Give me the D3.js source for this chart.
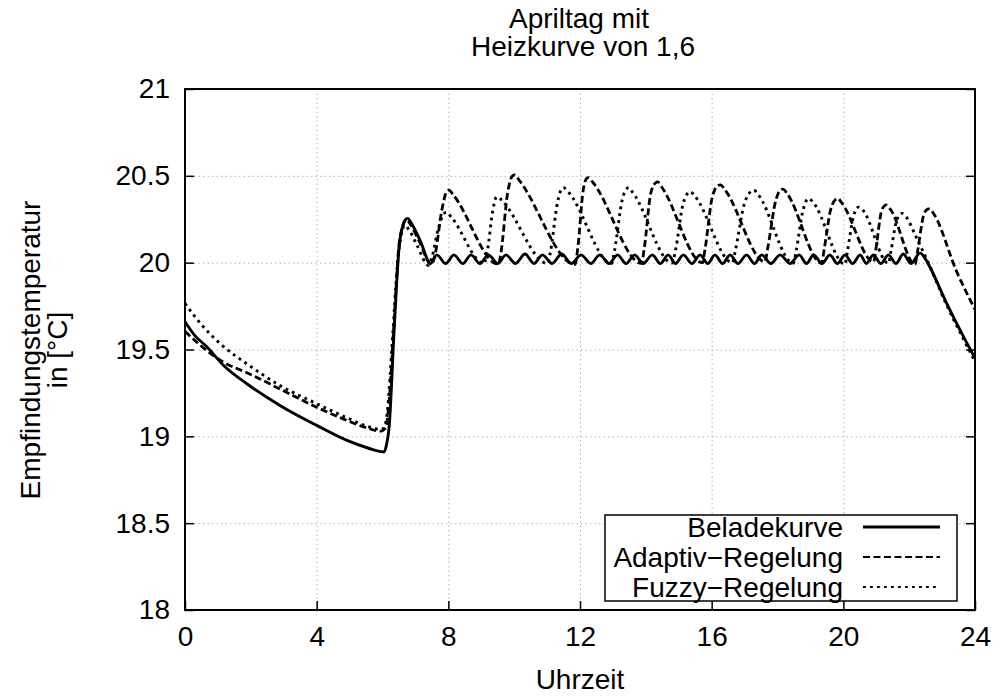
<!DOCTYPE html>
<html>
<head>
<meta charset="utf-8">
<script src="https://cdn.jsdelivr.net/npm/d3@7"></script>
<style>
  body { margin: 0; background: #fff; }
  svg { display: block; }
  text { font-family: "Liberation Sans", Arial, Helvetica, sans-serif; fill: #000; }
</style>
</head>
<body>
<svg id="chart" width="998" height="697"></svg>
<script>
// ---- Chart text ----
const titleLines = ["Apriltag mit", "Heizkurve von 1,6"];
const xAxisTitle = "Uhrzeit";
const yAxisTitleLines = ["Empfindungstemperatur", "in [°C]"];
const seriesNames = ["Beladekurve", "Adaptiv\u2212Regelung", "Fuzzy\u2212Regelung"];

// ---- Ticks ----
const xTickValues = [0, 4, 8, 12, 16, 20, 24];
const xTickLabels = ["0", "4", "8", "12", "16", "20", "24"];
const yTickValues = [18, 18.5, 19, 19.5, 20, 20.5, 21];
const yTickLabels = ["18", "18.5", "19", "19.5", "20", "20.5", "21"];

// ---- Beladekurve (solid) ----
const beladeHours = [0, 0.3, 0.64, 1.19, 1.9, 2.91, 4.03, 4.94, 5.6, 5.95, 6.05, 6.12, 6.2, 6.35, 6.5, 6.63, 6.76, 6.9, 7.16, 7.46,
  7.65, 7.92, 8.17, 8.44, 8.69, 8.96, 9.22, 9.5, 9.75, 10.04, 10.33, 10.6, 10.86, 11.15, 11.44, 11.74,
  12.03, 12.33, 12.6, 12.88, 13.14, 13.4, 13.66, 13.92, 14.2, 14.44, 14.68, 14.9, 15.14, 15.4, 15.65, 15.88,
  16.1, 16.33, 16.56, 16.8, 17.06, 17.3, 17.52, 17.8, 18.08, 18.38, 18.66, 18.88, 19.1, 19.35, 19.59, 19.82,
  20.05, 20.28, 20.51, 20.7, 20.91, 21.14, 21.37, 21.6, 21.82, 22.06, 22.33, 22.5, 22.63, 23.14, 23.65, 24];
const beladeTemps = [19.66, 19.58, 19.52, 19.405, 19.3, 19.175, 19.06, 18.975, 18.93, 18.912, 18.91, 18.95, 19.05, 19.6, 20.08, 20.22, 20.255, 20.22, 20.12, 19.995,
  20.045, 19.995, 20.045, 19.995, 20.045, 19.995, 20.045, 19.995, 20.045, 19.995, 20.05, 19.995, 20.045, 19.995, 20.05, 19.995,
  20.045, 19.995, 20.045, 19.995, 20.045, 19.995, 20.045, 19.995, 20.045, 19.995, 20.045, 19.995, 20.045, 19.995, 20.045, 19.995,
  20.045, 19.995, 20.045, 19.995, 20.045, 19.995, 20.045, 19.995, 20.045, 19.995, 20.045, 19.995, 20.045, 19.995, 20.045, 19.995,
  20.045, 19.995, 20.045, 19.995, 20.045, 19.995, 20.045, 19.995, 20.05, 19.995, 20.055, 20.02, 19.975, 19.766, 19.574, 19.45];

// ---- Adaptiv-Regelung (dashed) ----
const adaptivHours = [0, 0.49, 1.19, 1.9, 2.91, 3.92, 4.94, 5.5, 5.95, 6.1, 6.2, 6.35, 6.5, 6.6, 6.72, 6.85, 7.1, 7.49,
  7.6, 7.8, 7.95, 8.02, 8.15, 9.52,
  9.6, 9.8, 9.95, 10.02, 10.15, 11.85,
  11.93, 12.1, 12.2, 12.26, 12.4, 13.87,
  13.95, 14.15, 14.3, 14.36, 14.5, 15.72,
  15.8, 16.02, 16.2, 16.27, 16.4, 17.62,
  17.7, 17.95, 18.1, 18.17, 18.3, 19.34,
  19.42, 19.62, 19.77, 19.83, 19.95, 20.92,
  20.99, 21.15, 21.25, 21.3, 21.42, 22.18,
  22.25, 22.45, 22.56, 22.62, 22.75, 23.44, 24];
const adaptivTemps = [19.605, 19.52, 19.425, 19.365, 19.27, 19.175, 19.09, 19.05, 19.03, 19.05, 19.2, 19.65, 20.1, 20.2, 20.25, 20.22, 20.13, 19.99,
  20.05, 20.3, 20.41, 20.418, 20.39, 19.99,
  20.06, 20.4, 20.5, 20.505, 20.475, 19.99,
  20.08, 20.42, 20.485, 20.49, 20.46, 19.996,
  20.08, 20.4, 20.46, 20.465, 20.43, 20.0,
  20.08, 20.38, 20.445, 20.448, 20.42, 20.005,
  20.08, 20.36, 20.42, 20.424, 20.395, 19.996,
  20.08, 20.31, 20.365, 20.37, 20.345, 20.005,
  20.08, 20.29, 20.328, 20.332, 20.31, 19.99,
  20.06, 20.28, 20.308, 20.31, 20.28, 19.95, 19.73];

// ---- Fuzzy-Regelung (dotted) ----
const fuzzyHours = [0, 0.49, 1.09, 1.9, 2.91, 3.92, 4.94, 5.5, 5.95, 6.05, 6.15, 6.3, 6.45, 6.58, 6.68, 6.8, 7.05, 7.39,
  7.5, 7.7, 7.88, 7.95, 8.1, 9.08,
  9.18, 9.35, 9.45, 9.5, 9.62, 11.02,
  11.1, 11.32, 11.45, 11.5, 11.63, 12.96,
  13.05, 13.28, 13.43, 13.48, 13.6, 14.8,
  14.9, 15.12, 15.3, 15.35, 15.48, 16.63,
  16.72, 16.98, 17.22, 17.28, 17.42, 18.48,
  18.57, 18.75, 18.9, 18.95, 19.07, 20.05,
  20.12, 20.3, 20.42, 20.47, 20.58, 21.37,
  21.45, 21.6, 21.73, 21.78, 21.9, 22.23, 22.58, 23.14, 23.65, 24];
const fuzzyTemps = [19.765, 19.645, 19.53, 19.415, 19.29, 19.195, 19.105, 19.06, 19.04, 19.05, 19.15, 19.55, 19.98, 20.17, 20.215, 20.19, 20.1, 19.985,
  20.03, 20.2, 20.285, 20.29, 20.26, 19.995,
  20.06, 20.3, 20.375, 20.38, 20.36, 19.995,
  20.06, 20.35, 20.428, 20.432, 20.41, 19.995,
  20.07, 20.36, 20.428, 20.432, 20.405, 19.998,
  20.07, 20.33, 20.405, 20.409, 20.385, 20.0,
  20.07, 20.33, 20.414, 20.418, 20.39, 19.996,
  20.07, 20.28, 20.365, 20.37, 20.35, 19.99,
  20.06, 20.26, 20.316, 20.32, 20.305, 19.996,
  20.07, 20.23, 20.28, 20.284, 20.265, 20.14, 20.0, 19.755, 19.56, 19.43];

// ---- Layout ----
const plot = { left: 185, right: 975, top: 89, bottom: 610 };
const fontSize = 28;
const svg = d3.select("#chart");

const x = d3.scaleLinear().domain([0, 24]).range([plot.left, plot.right]);
const y = d3.scaleLinear().domain([18, 21]).range([plot.bottom, plot.top]);

// Grid
const grid = svg.append("g").attr("stroke", "#b4b4b4").attr("stroke-width", 1).attr("stroke-dasharray", "1.5,3");
grid.selectAll("line.gx").data(xTickValues.slice(1, -1)).join("line")
  .attr("x1", d => x(d) + 0.5).attr("x2", d => x(d) + 0.5)
  .attr("y1", plot.top).attr("y2", plot.bottom);
grid.selectAll("line.gy").data(yTickValues.slice(1, -1)).join("line")
  .attr("x1", plot.left).attr("x2", plot.right)
  .attr("y1", d => y(d) + 0.5).attr("y2", d => y(d) + 0.5);

// Axes with inward ticks (left, right, bottom)
const tickLen = 9;
const leftAxis = d3.axisLeft(y).tickValues(yTickValues).tickFormat((d, i) => yTickLabels[i]).tickSizeInner(-tickLen).tickSizeOuter(0).tickPadding(15);
const rightAxis = d3.axisRight(y).tickValues(yTickValues).tickFormat("").tickSizeInner(-tickLen).tickSizeOuter(0);
const bottomAxis = d3.axisBottom(x).tickValues(xTickValues).tickFormat((d, i) => xTickLabels[i]).tickSizeInner(-tickLen).tickSizeOuter(0).tickPadding(16);

function styleAxis(g) {
  g.select(".domain").remove();
  g.selectAll(".tick line").attr("stroke", "#000").attr("stroke-width", 1.5);
  g.selectAll(".tick text").attr("font-size", fontSize).attr("font-family", "Liberation Sans, Arial, sans-serif").attr("fill", "#000");
}
svg.append("g").attr("transform", `translate(${plot.left},0)`).call(leftAxis).call(styleAxis);
svg.append("g").attr("transform", `translate(${plot.right},0)`).call(rightAxis).call(styleAxis);
svg.append("g").attr("transform", `translate(0,${plot.bottom})`).call(bottomAxis).call(styleAxis);

// Series
const seriesDefs = [
  { hours: beladeHours, temps: beladeTemps, dash: null, width: 2.9 },
  { hours: adaptivHours, temps: adaptivTemps, dash: "7,3.5", width: 2.8 },
  { hours: fuzzyHours, temps: fuzzyTemps, dash: "2.8,4.2", width: 2.9 }
];
const line = d3.line().x(d => x(d[0])).y(d => y(d[1])).curve(d3.curveMonotoneX);
svg.append("defs").append("clipPath").attr("id", "plotClip")
  .append("rect").attr("x", plot.left).attr("y", plot.top)
  .attr("width", plot.right - plot.left).attr("height", plot.bottom - plot.top);
const seriesG = svg.append("g").attr("clip-path", "url(#plotClip)");
[2, 1, 0].forEach(i => {
  const s = seriesDefs[i];
  seriesG.append("path")
    .datum(s.hours.map((h, k) => [h, s.temps[k]]))
    .attr("d", line)
    .attr("fill", "none").attr("stroke", "#000")
    .attr("stroke-width", s.width)
    .attr("stroke-linejoin", "round")
    .attr("stroke-dasharray", s.dash);
});

// Frame
svg.append("rect").attr("x", plot.left).attr("y", plot.top)
  .attr("width", plot.right - plot.left).attr("height", plot.bottom - plot.top)
  .attr("fill", "none").attr("stroke", "#000").attr("stroke-width", 2);

// Legend
const legend = svg.append("g");
legend.append("rect").attr("x", 605).attr("y", 515).attr("width", 352).attr("height", 86)
  .attr("fill", "#fff").attr("stroke", "#000").attr("stroke-width", 1.5);
seriesNames.forEach((name, i) => {
  const cy = 527 + i * 30;
  legend.append("text").attr("x", 843).attr("y", cy).attr("dy", "0.36em")
    .attr("text-anchor", "end").attr("font-size", fontSize).text(name);
  legend.append("line").attr("x1", 863).attr("x2", 940).attr("y1", cy).attr("y2", cy)
    .attr("stroke", "#000").attr("stroke-width", i === 0 ? 2.8 : 2)
    .attr("stroke-dasharray", seriesDefs[i].dash);
});

// Titles
svg.append("text").attr("x", 579).attr("y", 28).attr("text-anchor", "middle").attr("font-size", fontSize).text(titleLines[0]);
svg.append("text").attr("x", 583).attr("y", 56).attr("text-anchor", "middle").attr("font-size", fontSize).text(titleLines[1]);
svg.append("text").attr("x", 580).attr("y", 689).attr("text-anchor", "middle").attr("font-size", fontSize).text(xAxisTitle);
yAxisTitleLines.forEach((t, i) => {
  svg.append("text").attr("transform", `translate(${40 + i * 27},350) rotate(-90)`)
    .attr("text-anchor", "middle").attr("font-size", fontSize).text(t);
});
</script>
</body>
</html>
